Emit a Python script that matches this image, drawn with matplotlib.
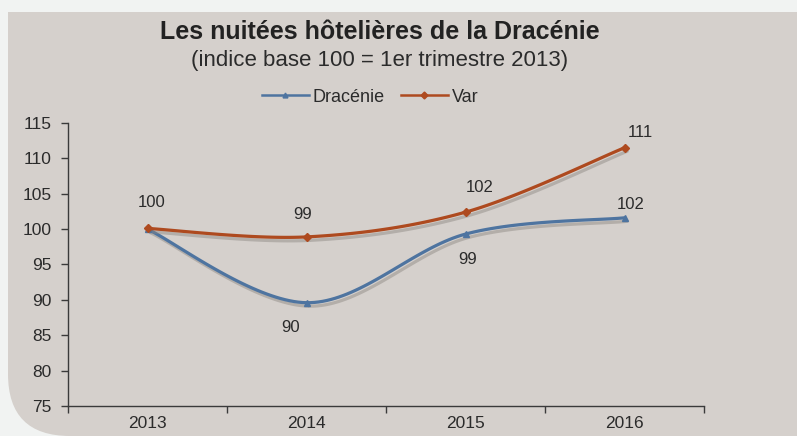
import numpy as np
import matplotlib.pyplot as plt
import matplotlib.patheffects as pe
from matplotlib.path import Path
from matplotlib.patches import PathPatch
from matplotlib.lines import Line2D

plt.rcParams.update({'font.family': ['Liberation Sans', 'DejaVu Sans']})

# Données (indice base 100 = 1er trimestre 2013)
annees = ['2013', '2014', '2015', '2016']
dracenie = [100.0, 89.6, 99.3, 101.6]
var = [100.1, 98.9, 102.4, 111.5]
lab_dracenie = ['', '90', '99', '102']
lab_var = ['100', '99', '102', '111']

# décalage des étiquettes (pixels)
dec_drac = [(0, 0), (-16, -25), (2, -25), (6, 13)]
dec_var = [(4, 26), (-4, 22), (14, 25), (16, 15)]

c_drac = '#4e74a0'
c_var = '#ae4a1f'
c_txt = '#2b2b2b'
c_fond = '#d5d0cc'

W, H = 797, 436
fig = plt.figure(figsize=(W / 100, H / 100), dpi=100, facecolor='#f1f3f2')

# Panneau de fond avec coin inférieur gauche arrondi
r = 62
x0, y0 = 8, 0
verts = [(x0, H - 12), (W, H - 12), (W, y0), (x0 + r, y0),
         (x0, y0), (x0, y0 + r), (x0, H - 12)]
codes = [Path.MOVETO, Path.LINETO, Path.LINETO, Path.LINETO,
         Path.CURVE3, Path.CURVE3, Path.CLOSEPOLY]
fig.patches.append(PathPatch(Path(verts, codes), facecolor=c_fond, edgecolor='none',
                             transform=None, zorder=-5))

ax = fig.add_axes([68 / W, 1 - 406 / H, (704 - 68) / W, (406 - 123) / H])
ax.set_facecolor('none')
ax.set_zorder(2)


def lisse(y, n=40):
    # courbe lissée type Catmull-Rom entre les points
    x = np.arange(len(y), dtype=float)
    p = np.column_stack([x, y])
    p = np.vstack([p[0], p, p[-1]])
    out = []
    for i in range(1, len(p) - 2):
        p0, p1, p2, p3 = p[i - 1], p[i], p[i + 1], p[i + 2]
        t = np.linspace(0, 1, n)[:, None]
        seg = 0.5 * ((2 * p1) + (-p0 + p2) * t + (2 * p0 - 5 * p1 + 4 * p2 - p3) * t ** 2
                     + (-p0 + 3 * p1 - 3 * p2 + p3) * t ** 3)
        out.append(seg)
    out = np.vstack(out)
    return out[:, 0], out[:, 1]


ombre = [pe.SimpleLineShadow(offset=(2, -2.5), shadow_color='#8a8580', alpha=0.45), pe.Normal()]

for vals, col, mk, ms in [(dracenie, c_drac, '^', 4.5), (var, c_var, 'D', 4.5)]:
    xs, ys = lisse(vals)
    ax.plot(xs, ys, color=col, lw=2.3, solid_capstyle='round', path_effects=ombre, zorder=3)
    ax.plot(range(len(vals)), vals, ls='none', marker=mk, ms=ms, color=col, zorder=4)

for vals, labs, decs in [(var, lab_var, dec_var), (dracenie, lab_dracenie, dec_drac)]:
    for i, (v, t, d) in enumerate(zip(vals, labs, decs)):
        if t:
            ax.annotate(t, (i, v), xytext=d, textcoords='offset pixels', ha='center',
                        va='center', fontsize=12, color=c_txt)

ax.set_xlim(-0.5, 3.5)
ax.set_ylim(75, 115)
ax.set_yticks(range(75, 116, 5))
ax.set_xticks(range(len(annees)))
ax.set_xticklabels(annees)
ax.set_xticks(np.arange(-0.5, 3.6, 1), minor=True)
ax.tick_params(axis='x', which='major', length=0, pad=7, labelsize=12.5, labelcolor=c_txt)
ax.tick_params(axis='x', which='minor', length=5, width=1, color='#3a3a3a')
ax.tick_params(axis='y', length=5, width=1, color='#3a3a3a', pad=7, labelsize=12.5,
               labelcolor=c_txt)
for s in ['top', 'right']:
    ax.spines[s].set_visible(False)
for s in ['left', 'bottom']:
    ax.spines[s].set_color('#3a3a3a')
    ax.spines[s].set_linewidth(1)

fig.text(380 / W, 1 - 32 / H, 'Les nuitées hôtelières de la Dracénie', ha='center',
         va='center', fontsize=18, fontweight='bold', color='#222222')
fig.text(380 / W, 1 - 60 / H, '(indice base 100 = 1er trimestre 2013)', ha='center',
         va='center', fontsize=16, color=c_txt)

handles = [Line2D([], [], color=c_drac, lw=1.8, marker='^', ms=3.5),
           Line2D([], [], color=c_var, lw=1.8, marker='D', ms=3.5)]
fig.legend(handles, ['Dracénie', 'Var'], loc='center', bbox_to_anchor=(370 / W, 1 - 97 / H),
           ncol=2, frameon=False, fontsize=13, handlelength=2.6, handletextpad=0.2,
           columnspacing=0.9, labelcolor=c_txt)

fig.savefig('out.png', dpi=100, facecolor=fig.get_facecolor())
